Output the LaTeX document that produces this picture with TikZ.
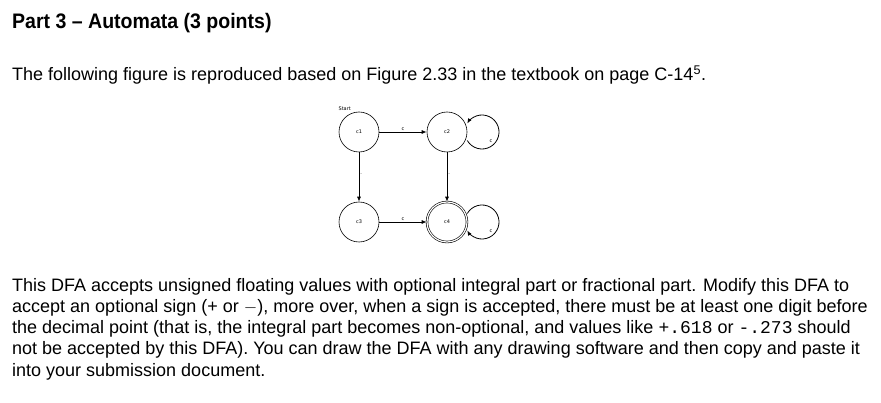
\documentclass[tikz,border=0pt]{standalone}
\usepackage{fontspec}
\setmainfont{Liberation Sans}[Ligatures=TeX]
\newfontfamily\titlefont{Liberation Sans}[FakeStretch=0.93,Ligatures=TeX]
\newfontfamily\dfont{DejaVu Sans}
\setmonofont{Liberation Mono}
\usetikzlibrary{arrows.meta}
\begin{document}
\begin{tikzpicture}[x=1pt,y=-1pt,
  st/.style={circle,draw,line width=0.6pt,minimum size=40pt,inner sep=0pt,font=\dfont\fontsize{5}{6}\selectfont},
  ed/.style={draw,line width=0.8pt,-{Latex[length=5pt,width=4pt]}},
  lb/.style={font=\dfont\fontsize{5}{6}\selectfont,inner sep=1pt},
  tx/.style={anchor=base west,inner sep=0pt,font=\fontsize{18}{20}\selectfont}]
\useasboundingbox (0,0) rectangle (881,403);
\node[tx,font=\titlefont\bfseries\fontsize{21}{24}\selectfont] (title) at (12,29) {Part 3 \textendash{} Automata (3 points)};
\node[tx] (intro) at (12,81) {The following figure is reproduced based on Figure 2.33 in the textbook on page C-14\textsuperscript{5}.};
\node[st] (c1) at (359,132) {c1};
\node[st] (c2) at (447,132) {c2};
\node[st] (c3) at (359,222) {c3};
\node[st,double,double distance=1.2pt] (c4) at (447,222) {c4};
\node[lb,anchor=south east] (start) at (352,112) {Start};
\draw[ed] (c1) -- node[lb,above]{c} (c2);
\draw[ed] (c3) -- node[lb,above]{c} (c4);
\draw[ed] (c1) -- node[lb,right,pos=0.45]{.} (c3);
\draw[ed] (c2) -- node[lb,right,pos=0.45]{.} (c4);
\draw[ed] (482,132) ++(150:17) arc[start angle=150,end angle=-150,radius=17];
\node[lb] at (491,141) {c};
\draw[ed] (482,222) ++(-150:17) arc[start angle=-150,end angle=150,radius=17];
\node[lb] at (491,231) {c};
\node[tx] (p1) at (12,292) {This DFA accepts unsigned floating values with optional integral part or fractional part. Modify this DFA to};
\node[tx] (p2) at (12,313) {accept an optional sign (+ or $-$), more over, when a sign is accepted, there must be at least one digit before};
\node[tx] (p3) at (12,334) {the decimal point (that is, the integral part becomes non-optional, and values like \texttt{+.618} or \texttt{-.273} should};
\node[tx] (p4) at (12,355) {not be accepted by this DFA). You can draw the DFA with any drawing software and then copy and paste it};
\node[tx] (p5) at (12,376) {into your submission document.};
\end{tikzpicture}
\end{document}
